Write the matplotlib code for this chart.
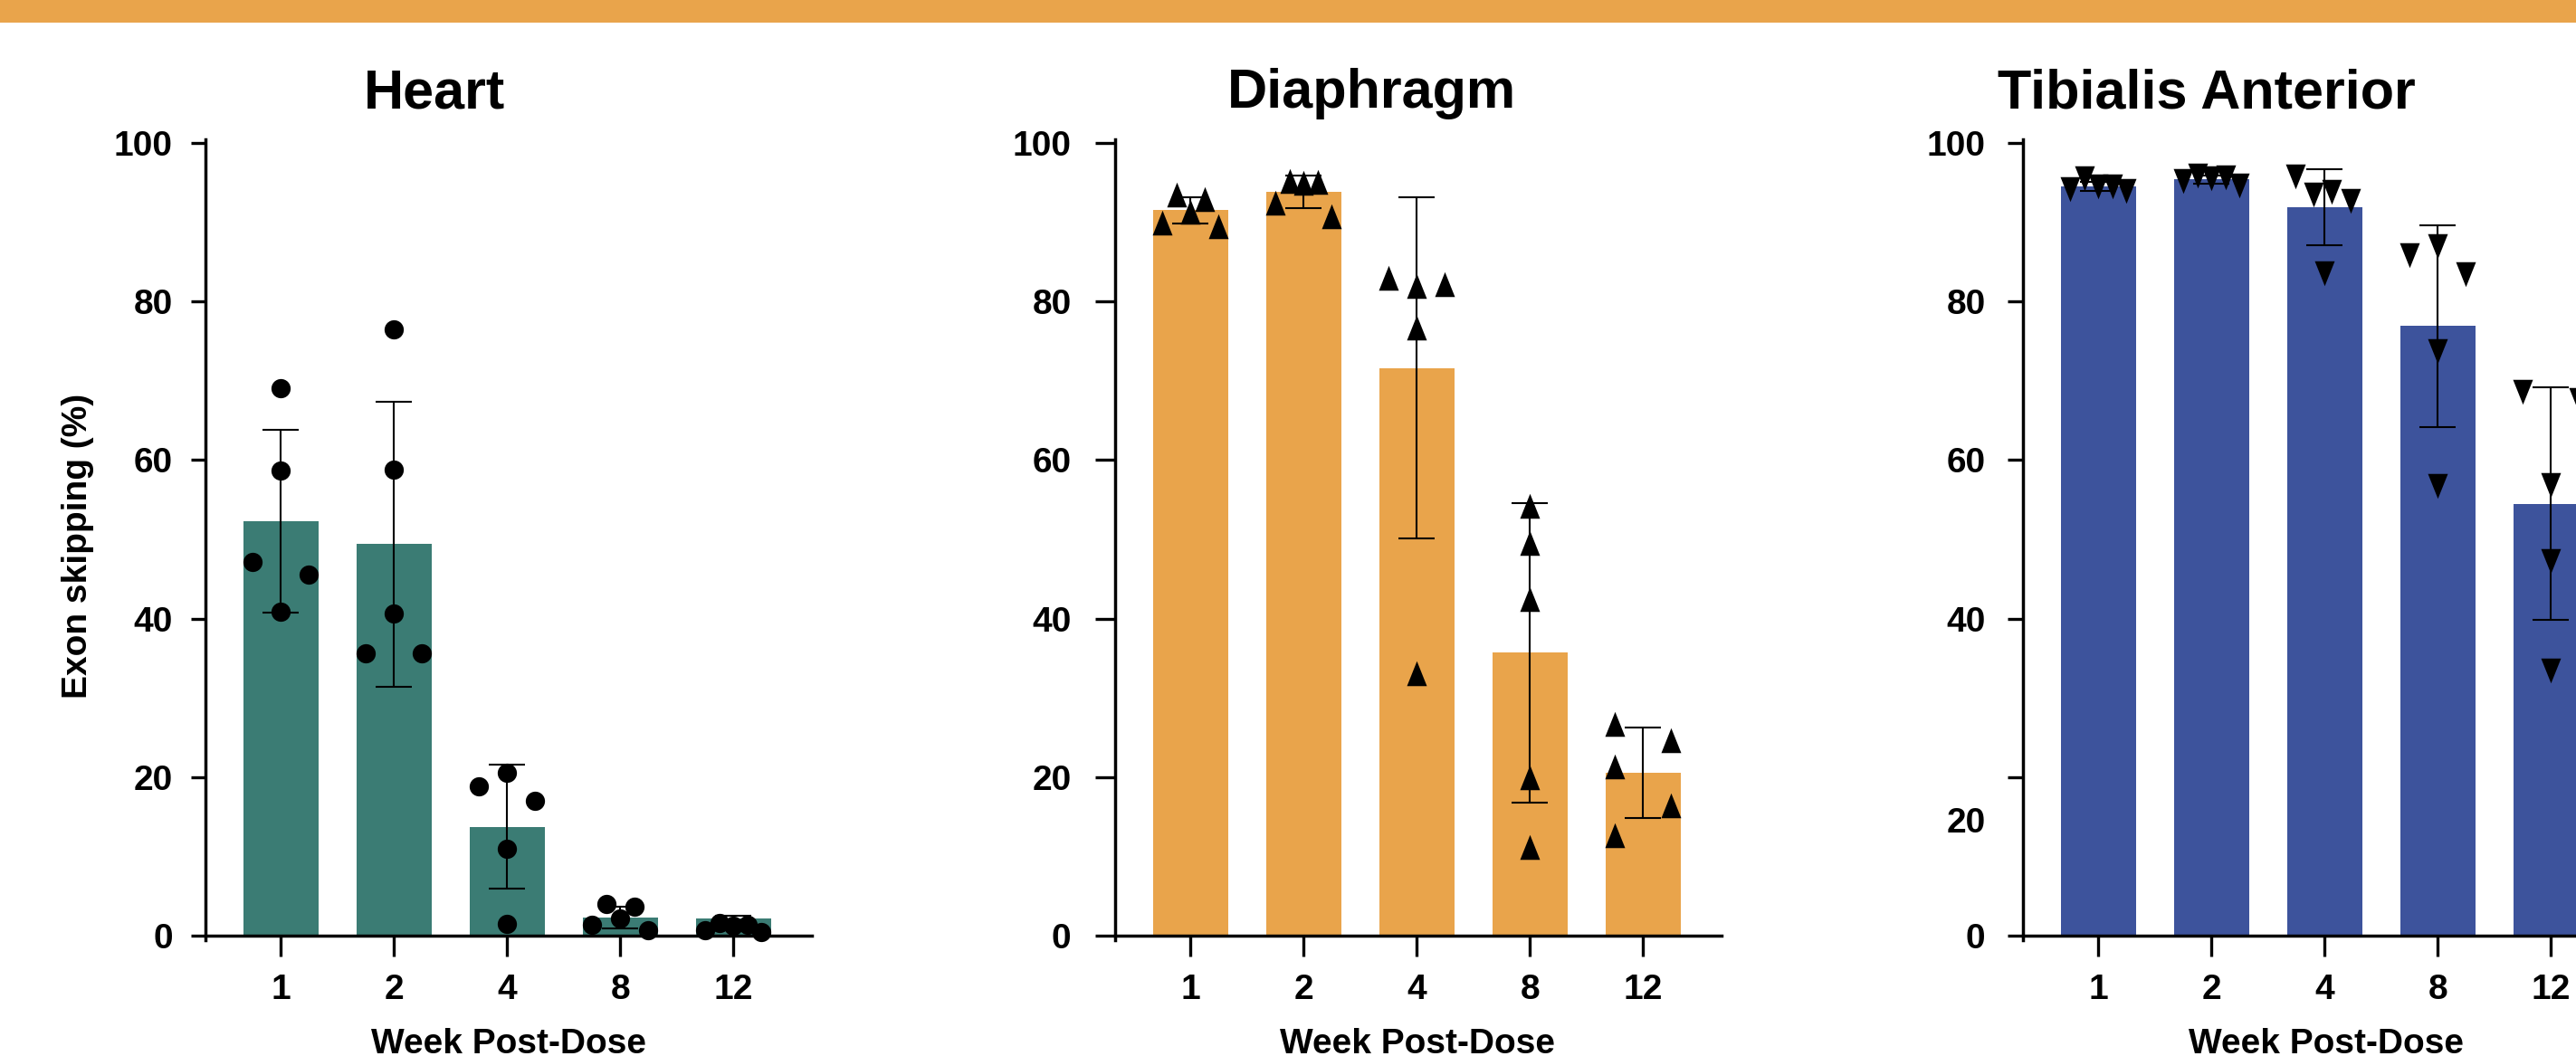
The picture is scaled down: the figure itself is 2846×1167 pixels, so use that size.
import matplotlib
matplotlib.use("Agg")
import matplotlib.pyplot as plt
import numpy as np
from matplotlib.path import Path
from matplotlib.patches import Rectangle

plt.rcParams['font.family'] = ['Liberation Sans', 'DejaVu Sans']
plt.rcParams['font.weight'] = 'bold'

# ---------------- data ----------------
weeks = ["1", "2", "4", "8", "12"]
tick_values = [0, 20, 40, 60, 80, 100]

heart_mean = [52.3, 49.4, 13.75, 2.3, 2.2]
heart_sd = [11.5, 18.0, 7.8, 1.4, 0.3]
heart_points = [
    [69.1, 58.7, 47.2, 45.6, 40.9],
    [76.5, 58.8, 40.6, 35.6, 35.6],
    [20.5, 18.8, 17.0, 11.0, 1.5],
    [4.0, 3.65, 2.17, 1.37, 0.68],
    [1.6, 1.25, 1.4, 0.7, 0.45],
]
heart_slots = [
    [0, 0, -2, 2, 0],
    [0, 0, 0, -2, 2],
    [0, -2, 2, 0, 0],
    [-1, 1, 0, -2, 2],
    [-1, 0, 1, -2, 2],
]

diaph_mean = [91.5, 93.8, 71.6, 35.7, 20.5]
diaph_sd = [1.7, 2.05, 21.5, 18.9, 5.7]
diaph_points = [
    [93.5, 92.9, 91.3, 89.9, 89.5],
    [95.2, 95.0, 95.1, 92.5, 90.8],
    [83.0, 82.0, 82.2, 76.7, 33.1],
    [54.2, 49.5, 42.5, 20.0, 11.2],
    [26.7, 24.7, 21.3, 16.4, 12.7],
]
diaph_slots = [
    [-1, 1, 0, -2, 2],
    [-1, 0, 1, -2, 2],
    [-2, 0, 2, 0, 0],
    [0, 0, 0, 0, 0],
    [-2, 2, -2, 2, -2],
]

tib_mean = [94.5, 95.4, 91.9, 76.9, 54.5]
tib_sd = [0.6, 0.5, 4.8, 12.7, 14.7]
tib_points = [
    [94.2, 95.5, 94.5, 94.5, 93.9],
    [95.2, 95.9, 95.5, 95.7, 94.6],
    [95.8, 93.5, 93.8, 92.7, 83.6],
    [85.9, 87.0, 83.4, 73.8, 56.7],
    [68.6, 67.6, 56.8, 47.3, 33.4],
]
tib_slots = [
    [-2, -1, 0, 1, 2],
    [-2, -1, 0, 1, 2],
    [-2.1, -0.8, 0.5, 1.85, 0],
    [-2, 0, 2, 0, 0],
    [-2, 2, 0, 0, 0],
]

titles = ["Heart", "Diaphragm", "Tibialis Anterior"]
ylabel_text = "Exon skipping (%)"
xlabel_text = "Week Post-Dose"

# ---------------- style ----------------
W, H = 2846, 1167
DPI = 100
teal = "#3B7C74"
orange = "#E9A44B"
blue = "#3D539C"

up_tri = Path([(0, 1), (-0.8, -1), (0.8, -1), (0, 1)],
              [Path.MOVETO, Path.LINETO, Path.LINETO, Path.CLOSEPOLY])
down_tri = Path([(0, -1), (-0.8, 1), (0.8, 1), (0, -1)],
                [Path.MOVETO, Path.LINETO, Path.LINETO, Path.CLOSEPOLY])

panels = [
    dict(mean=heart_mean, sd=heart_sd, pts=heart_points, slots=heart_slots,
         color=teal, marker='o', ms=15.3, left=226.5,
         ytl=11.2, ypad=14.4, title_x=480),
    dict(mean=diaph_mean, sd=diaph_sd, pts=diaph_points, slots=diaph_slots,
         color=orange, marker=up_tri, ms=19.8, left=1231.5,
         ytl=15.8, ypad=18.7, title_x=1515),
    dict(mean=tib_mean, sd=tib_sd, pts=tib_points, slots=tib_slots,
         color=blue, marker=down_tri, ms=19.8, left=2234.5,
         ytl=12.2, ypad=17.3, title_x=2438),
]

fig = plt.figure(figsize=(W / DPI, H / DPI), dpi=DPI)
fig.patch.set_facecolor("white")

# top band
fig.add_artist(Rectangle((0, 1 - 25 / H), 1, 25 / H, transform=fig.transFigure,
                         facecolor=orange, edgecolor='none'))

ymin, ymax = -0.6, 100.5
ppu = 8.76
bottom_px = 1034 + (0 - ymin) * ppu
top_px = 158 - (ymax - 100) * ppu
xmin, xmax = -0.67, 4.69
cat_px = 125.0
width_px = (xmax - xmin) * cat_px
slot_unit = 0.124

x = np.arange(len(weeks))
for i, p in enumerate(panels):
    ax = fig.add_axes([p['left'] / W, 1 - bottom_px / H,
                       width_px / W, (bottom_px - top_px) / H])
    ax.bar(x, p['mean'], width=0.66, color=p['color'], edgecolor='none', zorder=1)
    ax.errorbar(x, p['mean'], yerr=p['sd'], fmt='none', ecolor='black',
                elinewidth=1.5, capsize=14.4, capthick=1.5, zorder=2)
    for j in range(len(weeks)):
        xs = x[j] + np.array(p['slots'][j]) * slot_unit
        ax.scatter(xs, p['pts'][j], s=p['ms'] ** 2, marker=p['marker'],
                   color='black', linewidths=0, zorder=3, clip_on=False)
    ax.set_xlim(xmin, xmax)
    ax.set_ylim(ymin, ymax)
    for s in ['top', 'right']:
        ax.spines[s].set_visible(False)
    ax.spines['bottom'].set_position(('data', 0))
    for s in ['left', 'bottom']:
        ax.spines[s].set_linewidth(2.5)
    ax.set_xticks(x, weeks)
    ax.tick_params(axis='x', length=16.6, width=2.4, pad=13.5, labelsize=28)
    if i == 2:
        labels = [str(v) if v != 20 else "" for v in tick_values]
        ax.set_yticks(tick_values, labels)
        ax.set_yticks([14.6], ["20"], minor=True)
        ax.tick_params(axis='y', which='minor', length=0,
                       pad=p['ytl'] + p['ypad'], labelsize=28)
    else:
        ax.set_yticks(tick_values, [str(v) for v in tick_values])
    ax.tick_params(axis='y', which='major', length=p['ytl'], width=2.4,
                   pad=p['ypad'], labelsize=28)
    for lab in ax.get_xticklabels() + ax.get_yticklabels() + ax.get_yticklabels(minor=True):
        lab.set_fontweight('bold')
    ax.patch.set_alpha(0)

    fig.text(p['title_x'] / W, 1 - 119 / H, titles[i], ha='center',
             va='baseline', fontsize=44, fontweight='bold')
    cx = (p['left'] + width_px / 2) / W
    fig.text(cx, 1 - 1164 / H, xlabel_text, ha='center', va='baseline',
             fontsize=28, fontweight='bold')

fig.text(86 / W, 1 - 603 / H, ylabel_text, rotation=90, ha='center',
         va='center', fontsize=28, fontweight='bold')

fig.savefig("out.png", dpi=DPI)
